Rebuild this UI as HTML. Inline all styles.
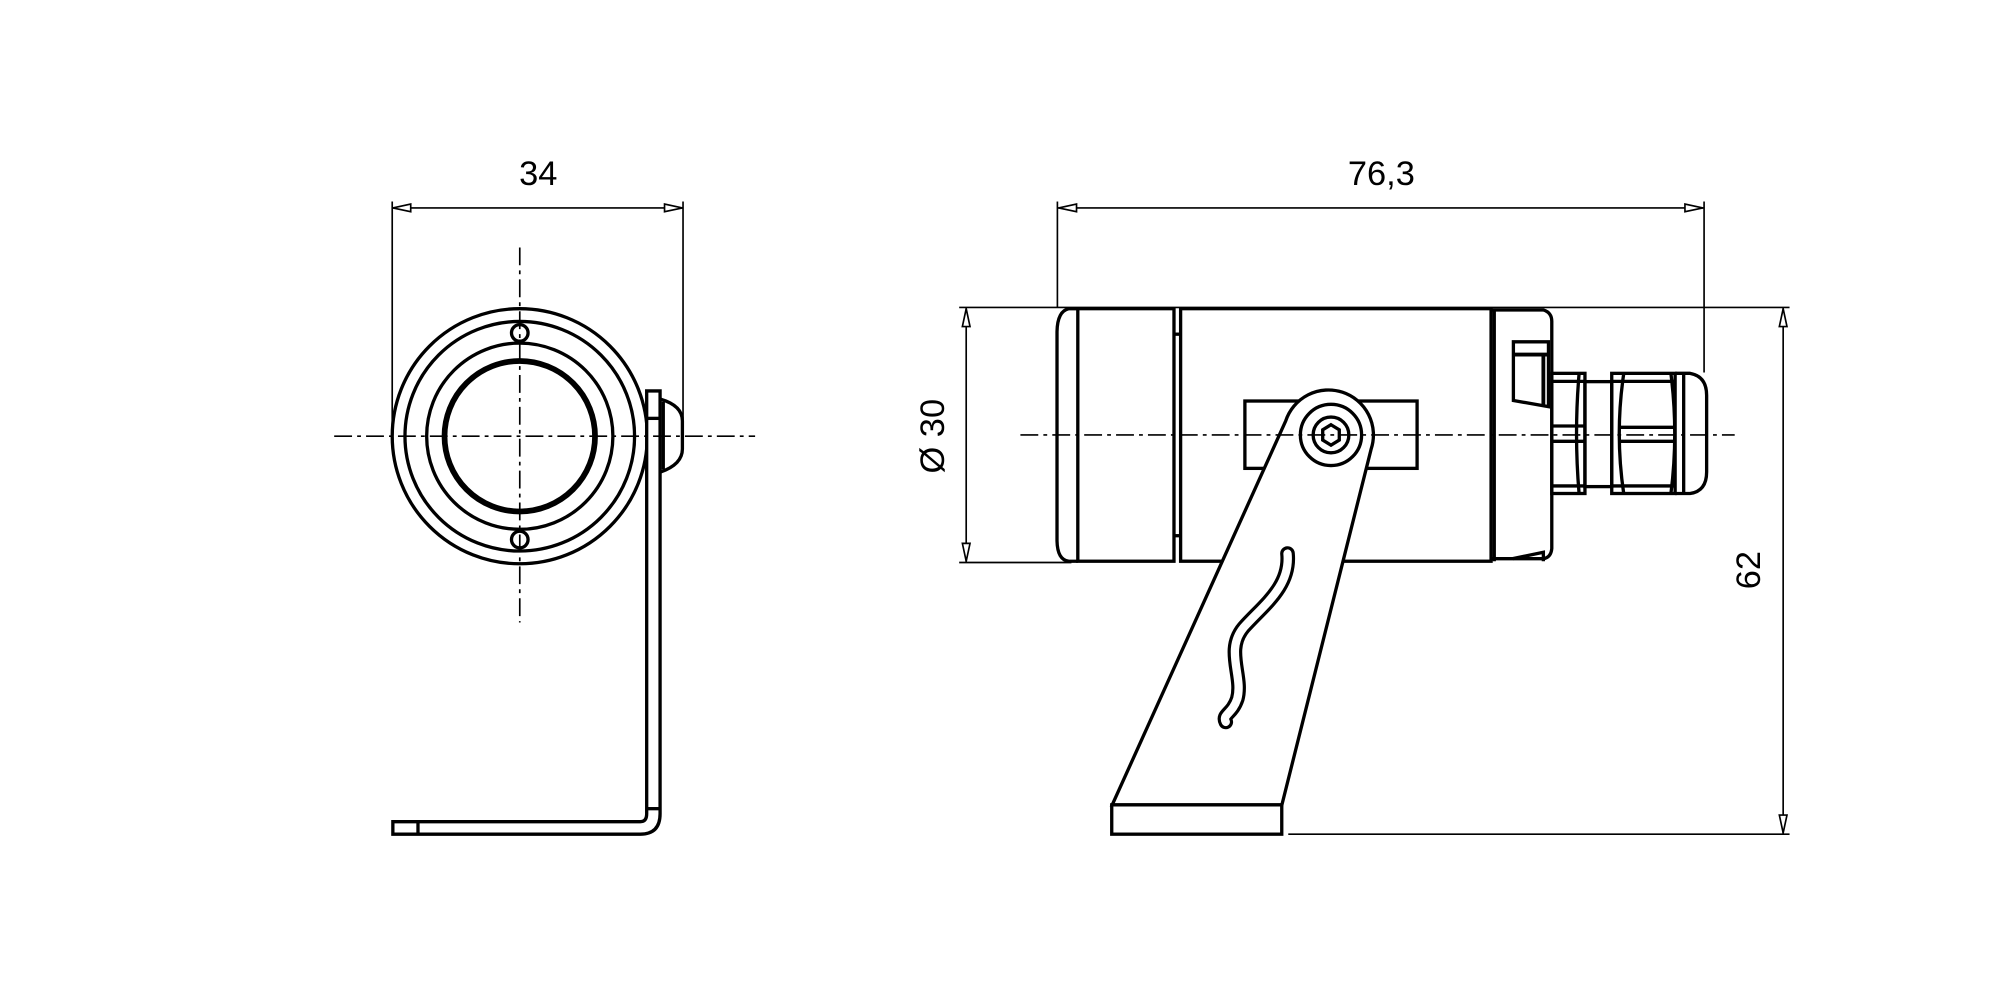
<!DOCTYPE html>
<html><head><meta charset="utf-8"><style>html,body{margin:0;padding:0;background:#fff}svg{display:block}</style></head>
<body>
<svg width="2000" height="1000" viewBox="0 0 1568 784" xmlns="http://www.w3.org/2000/svg" font-family="Liberation Sans, sans-serif">
<rect width="1568" height="784" fill="#fff"/>
<g stroke="#000" fill="none" stroke-width="2.6">
<!-- LEFT VIEW -->
<line x1="307.5" y1="158" x2="307.5" y2="338" stroke-width="1.3"/>
<line x1="535.5" y1="158" x2="535.5" y2="330" stroke-width="1.3"/>
<line x1="307.5" y1="163" x2="535.5" y2="163" stroke-width="1.3"/>
<path d="M308 163 l14 -3 v6z M535 163 l-14 -3 v6z" fill="#fff" stroke-width="1.3"/>
<circle cx="407.5" cy="342" r="100"/>
<circle cx="407.5" cy="342" r="90"/>
<circle cx="407.5" cy="342" r="73"/>
<circle cx="407.5" cy="342" r="59" stroke-width="4.5"/>
<circle cx="407.5" cy="261" r="6.5" fill="#fff"/>
<circle cx="407.5" cy="423" r="6.5" fill="#fff"/>
<!-- bracket -->
<path d="M507 306.5 H517.5 V638 Q517.5 654 502 654 H308 V644.2 H502 Q507 644.2 507 638 Z" fill="#fff"/>
<line x1="507" y1="634" x2="517.5" y2="634"/>
<line x1="327.7" y1="644.2" x2="327.7" y2="654"/>
<line x1="507" y1="328" x2="517.5" y2="328"/>
<path d="M518 313 Q535 318 535 330 V352 Q535 364 518 370" />
<line x1="520" y1="315" x2="520" y2="368"/>
<!-- centre lines -->
<line x1="262" y1="342" x2="592" y2="342" stroke-width="1.3" stroke-dasharray="14 4 3 4"/>
<line x1="407.5" y1="194" x2="407.5" y2="488" stroke-width="1.3" stroke-dasharray="14 4 3 4"/>

<!-- RIGHT VIEW -->
<line x1="829" y1="158" x2="829" y2="241" stroke-width="1.3"/>
<line x1="1336" y1="158" x2="1336" y2="292" stroke-width="1.3"/>
<line x1="829" y1="163" x2="1336" y2="163" stroke-width="1.3"/>
<path d="M830 163 l14 -3 v6z M1335 163 l-14 -3 v6z" fill="#fff" stroke-width="1.3"/>
<line x1="752" y1="241" x2="1403" y2="241" stroke-width="1.3"/>
<line x1="752" y1="441" x2="840" y2="441" stroke-width="1.3"/>
<line x1="757.5" y1="241" x2="757.5" y2="441" stroke-width="1.3"/>
<path d="M757.5 242 l-3 14 h6z M757.5 440 l-3 -14 h6z" fill="#fff" stroke-width="1.3"/>
<line x1="1010" y1="654" x2="1403" y2="654" stroke-width="1.3"/>
<line x1="1398" y1="241" x2="1398" y2="654" stroke-width="1.3"/>
<path d="M1398 242 l-3 14 h6z M1398 653 l-3 -14 h6z" fill="#fff" stroke-width="1.3"/>

<!-- lens cap -->
<path d="M845 242 H838 Q829 244 828.7 260 V424 Q829 439 838 440 H845"/>
<rect x="845" y="242" width="75.4" height="198"/>
<rect x="925.6" y="242" width="243.4" height="198"/>
<line x1="920.4" y1="262" x2="925.6" y2="262"/>
<line x1="920.4" y1="420" x2="925.6" y2="420"/>
<!-- back -->
<line x1="1171.5" y1="242" x2="1171.5" y2="440"/>
<path d="M1169 243 H1210 Q1216.6 245 1216.6 252 V430 Q1216 437 1210 438 H1169"/>
<path d="M1186.5 268 H1214 V318.8 L1186.5 314 Z"/>
<line x1="1186.5" y1="278" x2="1214" y2="278" stroke-width="3"/>
<line x1="1210" y1="278" x2="1210" y2="318" stroke-width="3"/>
<path d="M1186 438 L1210 433 V440"/>
<!-- gland -->
<rect x="1216.6" y="292.7" width="26" height="94.2"/>
<line x1="1216.6" y1="299" x2="1242.6" y2="299"/>
<line x1="1216.6" y1="381" x2="1242.6" y2="381"/>
<line x1="1216.6" y1="334" x2="1242.6" y2="334"/>
<line x1="1216.6" y1="346" x2="1242.6" y2="346"/>
<path d="M1238 293 Q1234 340 1238 387" />
<rect x="1242.6" y="299.2" width="21" height="82.3"/>
<rect x="1263.6" y="292.7" width="49.7" height="94.2"/>
<path d="M1273 293 Q1266 340 1273 387 M1310 293 Q1316 340 1310 387"/>
<line x1="1263.6" y1="299" x2="1313.3" y2="299"/>
<line x1="1263.6" y1="381" x2="1313.3" y2="381"/>
<line x1="1270" y1="335" x2="1313.3" y2="335"/>
<line x1="1270" y1="346" x2="1313.3" y2="346"/>
<path d="M1313.3 292.7 H1325 Q1338 295 1338 310 V370 Q1338 385 1325 386.9 H1313.3"/>
<line x1="1320" y1="293" x2="1320" y2="387"/>
<!-- mount block -->
<rect x="976" y="314.4" width="135" height="52.8" fill="#fff"/>
<!-- arm -->
<path d="M872 631 L1008 330 A33 33 0 0 1 1075 352 L1005 631 Z" fill="#fff"/>
<rect x="871.6" y="631" width="133.3" height="23" fill="#fff"/>
<circle cx="1043.5" cy="341" r="24" fill="#fff"/>
<circle cx="1043.5" cy="341" r="14"/>
<polygon points="1043.5,333 1050,337 1050,345 1043.5,349 1037,345 1037,337"/>
<path d="M1009.4 434 C1012 460 990 475 975 492 C960 510 975 530 970 548 C966 560 958 560 961 566" stroke-width="11.5" stroke-linecap="round"/>
<path d="M1009.4 434 C1012 460 990 475 975 492 C960 510 975 530 970 548 C966 560 958 560 961 566" stroke="#fff" stroke-width="6.5" stroke-linecap="round"/>
<line x1="800" y1="341" x2="1360" y2="341" stroke-width="1.3" stroke-dasharray="14 4 3 4"/>
</g>
<g font-size="27" fill="#000">
<text x="422" y="145" text-anchor="middle">34</text>
<text x="1083" y="145" text-anchor="middle">76,3</text>
<text transform="translate(740,342) rotate(-90)" text-anchor="middle">Ø 30</text>
<text transform="translate(1380,447) rotate(-90)" text-anchor="middle">62</text>
</g>
</svg>
</body></html>
